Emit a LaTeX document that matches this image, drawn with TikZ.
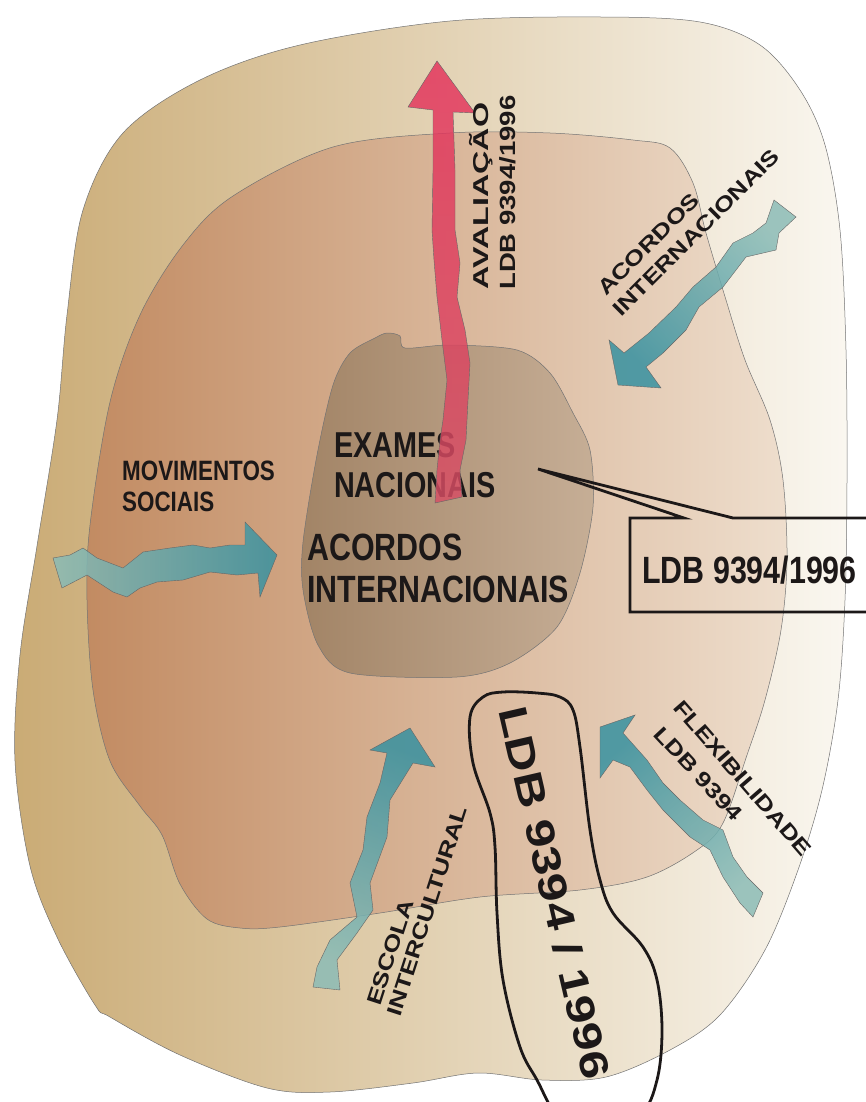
\documentclass[tikz,border=0pt]{standalone}
\usepackage{fontspec}
\setmainfont{Liberation Sans}
\newfontfamily\narrowfont{Liberation Sans}[FakeStretch=0.8]
\newfontfamily\widefont{Liberation Sans}[FakeStretch=1.25]
\newfontfamily\widerfont{Liberation Sans}[FakeStretch=1.5]
\usetikzlibrary{calc}
\definecolor{OuterL}{RGB}{202,171,117}
\definecolor{OuterR}{RGB}{250,247,240}
\definecolor{MidL}{RGB}{194,139,98}
\definecolor{MidR}{RGB}{238,222,205}
\definecolor{CoreL}{RGB}{162,132,102}
\definecolor{CoreR}{RGB}{198,174,150}
\definecolor{TealHead}{RGB}{55,145,160}
\definecolor{TealTail}{RGB}{140,188,182}
\definecolor{RedTop}{RGB}{228,48,90}
\definecolor{RedBot}{RGB}{215,78,100}
\definecolor{Ink}{RGB}{28,24,24}

\tikzset{
  blob/.style={draw=black!55, line width=0.5},
  tealarrow/.style={draw=black!60, line width=0.4, top color=TealHead, bottom color=TealTail, fill opacity=0.85},
  centrelabel/.style={anchor=base west, inner sep=0, text=Ink, font=\narrowfont\bfseries\fontsize{#1}{#1}\selectfont},
  tiltlabel/.style={anchor=base west, inner sep=0, text=Ink, font=\widefont\bfseries\fontsize{#1}{#1}\selectfont},
}

\begin{document}
\begin{tikzpicture}[x=1pt, y=-1pt]
  \useasboundingbox (0,0) rectangle (866,1102);
  \clip (0,0) rectangle (866,1102);

  \shade[blob, left color=OuterL, right color=OuterR]
    plot[smooth cycle, tension=0.55] coordinates {
      (450,21) (600,17) (700,22) (760,45) (800,90) (825,145) (840,230) (846,350)
      (847,480) (845,600) (838,700) (822,790) (798,870) (765,950) (720,1015)
      (670,1050) (606,1077) (542,1080) (478,1073) (413,1083) (330,1092) (267,1088)
      (180,1055) (110,1017) (95,1005) (57,937) (30,866) (15,761) (20,655) (37,546)
      (57,420) (67,315) (83,210) (123,133) (200,80) (300,45)};

  \shade[blob, left color=MidL, right color=MidR]
    plot[smooth cycle, tension=0.55] coordinates {
      (450,133) (550,133) (633,140) (670,148) (693,183) (706,233) (726,300)
      (745,360) (770,420) (783,480) (787,560) (781,630) (765,700) (747,755)
      (723,823) (697,850) (647,877) (580,890) (480,897) (380,913) (280,927)
      (240,928) (207,919) (180,884) (162,835) (140,806) (110,761) (93,690)
      (87,600) (90,525) (110,402) (140,315) (183,245) (233,196) (333,147)};

  \shade[blob, left color=CoreL, right color=CoreR]
    plot[smooth cycle, tension=0.5] coordinates {
      (303,542) (317,455) (333,385) (350,353) (375,338) (387,333) (400,336)
      (405,348) (450,345) (517,350) (550,373) (573,413) (590,450) (593,507)
      (580,573) (557,627) (510,663) (457,677) (350,673) (318,645) (303,590)};

  \node[centrelabel=36] (exames) at (334,457) {EXAMES};
  \node[centrelabel=36] (nacionais) at (334,497) {NACIONAIS};
  \node[centrelabel=38] (acordos) at (307,560) {ACORDOS};
  \node[centrelabel=38] (internac) at (307,602) {INTERNACIONAIS};
  \node[centrelabel=28] (movimentos) at (122,480) {MOVIMENTOS};
  \node[centrelabel=28] (sociais) at (122,511) {SOCIAIS};

  \shade[draw=black!60, line width=0.4, top color=RedTop, bottom color=RedBot, fill opacity=0.82]
    (437,61) -- (475,113) -- (453,112) -- (455,170) -- (455,230) -- (460,263)
    -- (457,297) -- (465,330) -- (470,363) -- (468,400) -- (466,440) -- (460,470)
    -- (462,497) -- (435,503) -- (437,470) -- (440,440) -- (443,420) -- (447,380)
    -- (442,340) -- (437,297) -- (434,260) -- (432,230) -- (433,170) -- (433,110)
    -- (408,107) -- cycle;

  \shade[tealarrow, shading angle=-90]
    (53,558) -- (70,555) -- (83,548) -- (97,558) -- (123,568) -- (143,552)
    -- (170,548) -- (193,545) -- (210,548) -- (230,545) -- (245,545) -- (245,522)
    -- (277,555) -- (260,597) -- (258,573) -- (237,575) -- (210,572) -- (183,580)
    -- (157,582) -- (140,588) -- (127,597) -- (113,592) -- (87,575) -- (62,588) -- cycle;

  \shade[tealarrow, shading angle=-20]
    (410,728) -- (435,767) -- (413,763) -- (390,800) -- (387,837) -- (370,883)
    -- (373,910) -- (357,933) -- (337,960) -- (340,990) -- (313,987) -- (317,967)
    -- (330,940) -- (357,917) -- (350,883) -- (363,850) -- (367,817) -- (380,783)
    -- (387,753) -- (370,750) -- cycle;

  \shade[tealarrow, shading angle=40]
    (600,727) -- (635,715) -- (623,733) -- (647,760) -- (663,783) -- (680,800)
    -- (703,820) -- (723,830) -- (733,857) -- (747,877) -- (763,893) -- (753,917)
    -- (740,903) -- (723,877) -- (710,850) -- (690,837) -- (663,810) -- (647,790)
    -- (630,767) -- (613,760) -- (600,778) -- cycle;

  \shade[tealarrow, shading angle=135]
    (618,385) -- (609,340) -- (624,353) -- (649,333) -- (676,307) -- (693,287)
    -- (716,267) -- (733,243) -- (753,233) -- (766,223) -- (774,200) -- (796,217)
    -- (779,233) -- (776,250) -- (746,257) -- (723,287) -- (699,307) -- (686,330)
    -- (663,353) -- (646,367) -- (661,388) -- cycle;

  \node[tiltlabel=21.5, font=\widerfont\bfseries\fontsize{21.5}{21.5}\selectfont, rotate=90] (avaliacao) at (488,290) {AVALIAÇÃO};
  \node[tiltlabel=22, rotate=90] (ldbaval) at (515,290) {LDB 9394/1996};
  \node[tiltlabel=21, rotate=45] (acordosr) at (606,297) {ACORDOS};
  \node[tiltlabel=21, rotate=45] (internacr) at (621,318) {INTERNACIONAIS};
  \node[tiltlabel=21, rotate=-49] (flex) at (672,708) {FLEXIBILIDADE};
  \node[tiltlabel=21, rotate=-47] (ldbflex) at (652,735) {LDB 9394};
  \node[tiltlabel=21, rotate=72] (escola) at (380,1007) {ESCOLA};
  \node[tiltlabel=21, rotate=72] (intercult) at (400,1018) {INTERCULTURAL};
  \node[tiltlabel=40, rotate=-77] (ldbloop) at (498,710) {LDB 9394 / 1996};

  \draw[Ink, line width=2.8]
    plot[smooth cycle, tension=0.6] coordinates {
      (470,717) (483,697) (503,692) (537,693) (560,697) (573,710) (580,747)
      (590,830) (600,880) (613,913) (643,947) (657,980) (662,1030) (657,1080)
      (640,1115) (595,1135) (560,1120) (537,1080) (520,1047) (503,980)
      (497,913) (495,847) (490,813) (473,763)};

  \coordinate (calltip) at (538,469);
  \draw[Ink, line width=2.8] (880,518) -- (733,518) -- (calltip) -- (684,518)
    -- (630,518) -- (630,612) -- (880,612);
  \node[centrelabel=38] (ldbbox) at (642,583) {LDB 9394/1996};
\end{tikzpicture}
\end{document}
